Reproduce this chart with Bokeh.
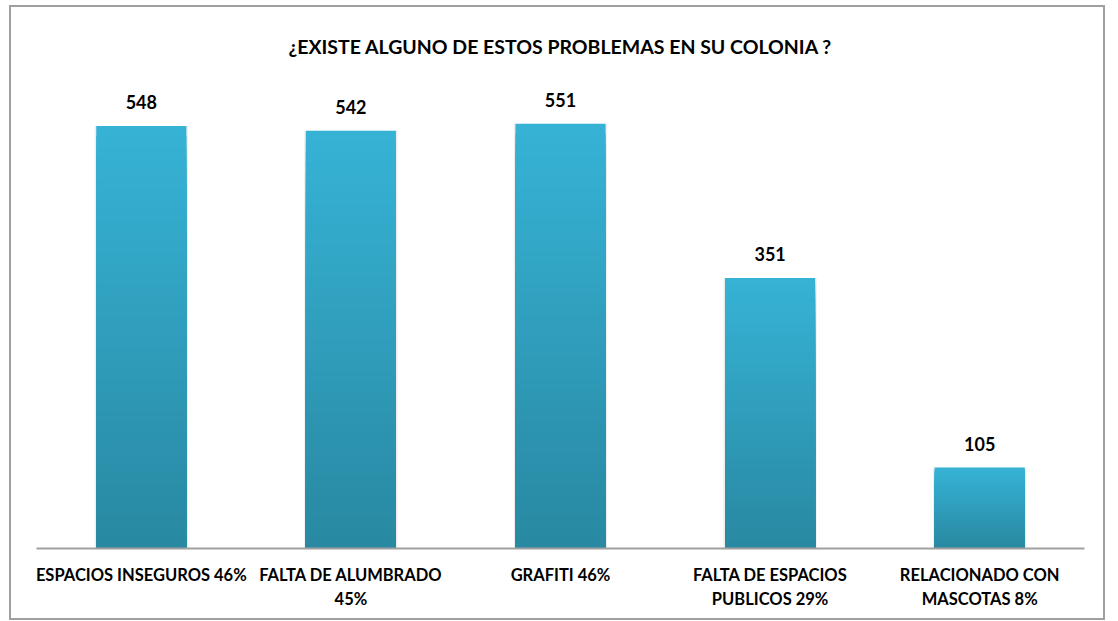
from bokeh.plotting import figure
from bokeh.models import ColumnDataSource, Title
from bokeh.core.properties import value
from bokeh.embed import file_html
from bokeh.resources import INLINE

categories = ["ESPACIOS INSEGUROS 46%", "FALTA DE ALUMBRADO\n45%", "GRAFITI 46%",
              "FALTA DE ESPACIOS\nPUBLICOS 29%", "RELACIONADO CON\nMASCOTAS 8%"]
counts = [548, 542, 551, 351, 105]
title_text = "¿EXISTE ALGUNO DE ESTOS PROBLEMAS EN SU COLONIA ?"

FONT = "Lato"
top_rgb = (54, 179, 214)
bot_rgb = (41, 136, 161)

p = figure(x_range=categories, y_range=(0, 620), width=1096, height=615,
           output_backend="svg", toolbar_location=None,
           min_border_left=25, min_border_right=23, min_border_top=63, min_border_bottom=74)
p.styles = {"border": "2px solid #a0a0a0", "box-sizing": "border-box",
            "margin-left": "9px", "margin-top": "5px"}
p.outline_line_color = None
p.xgrid.grid_line_color = None
p.ygrid.grid_line_color = None
p.yaxis.visible = False

# soft shadow behind bars
p.vbar(x=categories, top=counts, width=0.445, fill_color="#000000", fill_alpha=0.07,
       line_color=None)

# gradient bars: overlapping slices from the base, colour by relative height
N = 40
xs, tops, colors = [], [], []
for k in range(N - 1, -1, -1):
    t = (k + 0.5) / N
    r = round(bot_rgb[0] + (top_rgb[0] - bot_rgb[0]) * t)
    g = round(bot_rgb[1] + (top_rgb[1] - bot_rgb[1]) * t)
    b = round(bot_rgb[2] + (top_rgb[2] - bot_rgb[2]) * t)
    for c, v in zip(categories, counts):
        xs.append(c)
        tops.append(v * (k + 1) / N)
        colors.append("#%02x%02x%02x" % (r, g, b))
src = ColumnDataSource(dict(x=xs, top=tops, color=colors))
p.vbar(x="x", bottom=0, top="top", width=0.43, source=src,
       fill_color="color", line_color=None)

lab = ColumnDataSource(dict(x=categories, y=counts, t=[str(v) for v in counts]))
p.text(x="x", y="y", text="t", source=lab, y_offset=-17, text_align="center",
       text_baseline="bottom", text_font=value(FONT), text_font_style="bold",
       text_font_size="18px", text_color="#000000")

p.xaxis.axis_line_color = "#a0a0a0"
p.xaxis.axis_line_width = 2
p.xaxis.major_tick_line_color = None
p.xaxis.minor_tick_line_color = None
p.xaxis.major_label_text_font = FONT
p.xaxis.major_label_text_font_style = "bold"
p.xaxis.major_label_text_font_size = "16.5px"
p.xaxis.major_label_text_color = "#000000"
p.xaxis.major_label_standoff = 10
p.xaxis.major_label_text_line_height = 1.2

p.title = Title(text=title_text, align="center", text_font=FONT, text_font_style="bold",
                text_font_size="19.5px", text_color="#000000", offset=0)
p.title.standoff = 26

open("out.html", "w").write(file_html(p, INLINE))
